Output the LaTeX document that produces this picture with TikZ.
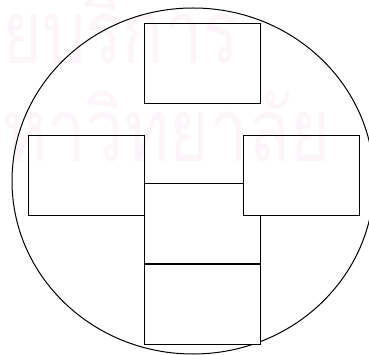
\documentclass[tikz,border=0pt]{standalone}
\usepackage{fontspec}
\usepackage{tikz}
\usetikzlibrary{positioning}
\newfontfamily\thaifont[Script=Thai]{Loma}
\definecolor{wmpink}{RGB}{252,245,250}
\definecolor{mydark}{RGB}{0,0,0}
\tikzset{
  part/.style={rectangle, draw=mydark, fill=white,
    minimum width=116pt, minimum height=80pt,
    line width=1pt, inner sep=0pt},
  stamp/.style={inner sep=0pt, anchor=base west, color=wmpink,
    xscale=0.78, transform shape,
    font=\thaifont\fontsize{88}{88}\selectfont}
}
\begin{document}
\begin{tikzpicture}[x=1pt, y=-1pt]
  \useasboundingbox (0,0) rectangle (369,355);
  % outline
  \draw[line width=1pt, mydark] (193,181) ellipse [x radius=181, y radius=173];
  % parts
  \node[part] (top) at (202,64) {};
  \node[part] (mid) at (202,223.5) {};
  \node[part, below=0pt of mid] (bot) {};
  \node[part] (lft) at (86,175.5) {};
  \node[part] (rgt) at (301,175.5) {};
  % faint watermark over everything
  \begin{scope}[blend mode=multiply]
    \node[stamp] (wmtop) at (2,64) {ยบริการ};
    \node[stamp] (wmbot) at (2,162) {หาวิทยาลัย};
  \end{scope}
\end{tikzpicture}
\end{document}
